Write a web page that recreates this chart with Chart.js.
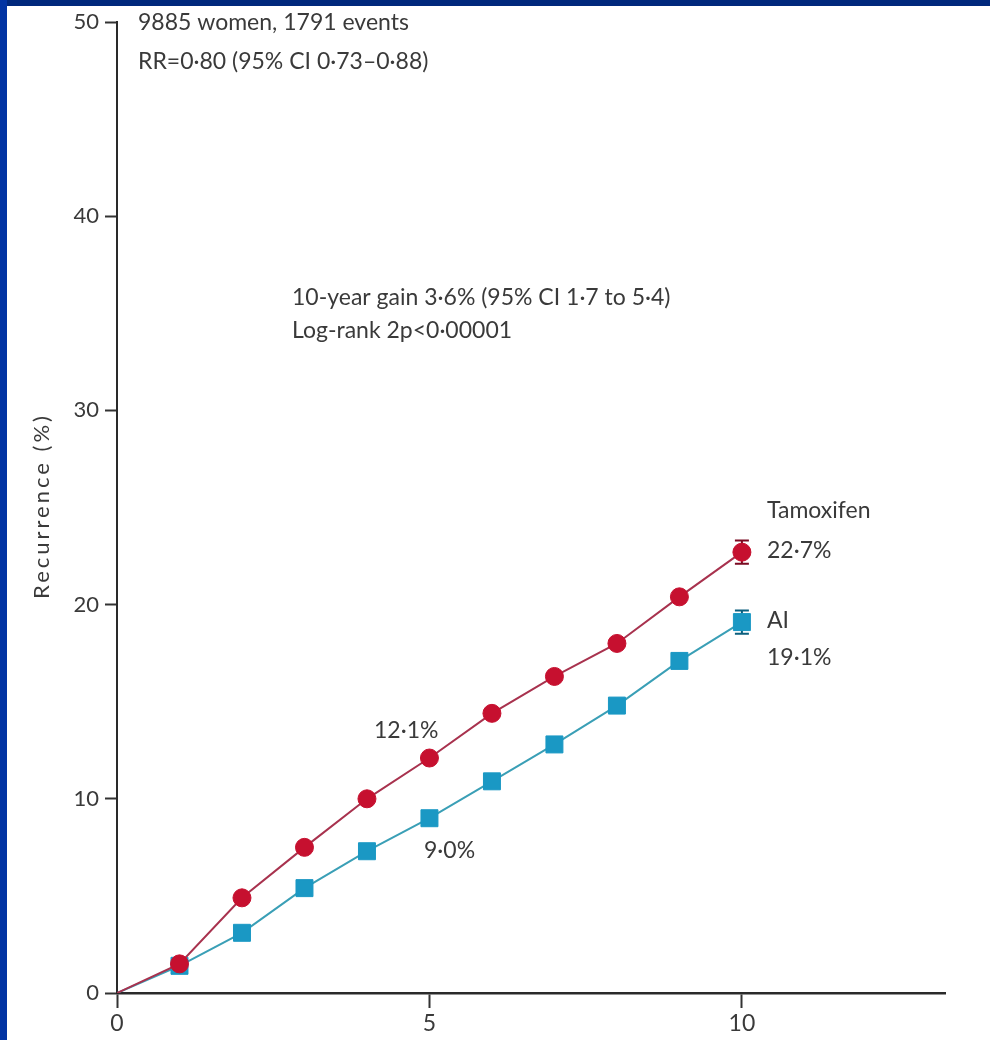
<!DOCTYPE html>
<html>
<head>
<meta charset="utf-8">
<script src="https://cdn.jsdelivr.net/npm/chart.js@4.4.1/dist/chart.umd.min.js"></script>
<style>
html, body { margin:0; padding:0; background:#fff; }
#wrap { position:relative; width:990px; height:1040px; overflow:hidden; background:#fff; }
#topbar { position:absolute; left:0; top:0; width:990px; height:6px; background:#00287c; }
#leftbar { position:absolute; left:0; top:0; width:7px; height:1040px; background:#0134a3; }
canvas { position:absolute; left:0; top:0; }
</style>
</head>
<body>
<div id="wrap">
<canvas id="myChart" width="990" height="1040"></canvas>
<div id="topbar"></div>
<div id="leftbar"></div>
</div>
<script>
// years since start (0 = origin, no marker)
var years = [0, 1, 2, 3, 4, 5, 6, 7, 8, 9, 10];
var tamoxifen = [0, 1.5, 4.9, 7.5, 10.0, 12.1, 14.4, 16.3, 18.0, 20.4, 22.7];
var aromatase = [0, 1.4, 3.1, 5.4, 7.3, 9.0, 10.9, 12.8, 14.8, 17.1, 19.1];
// +/- error at 10 years
var tamErr = 0.6;
var aiErr = 0.6;
var xTicks = [0, 5, 10];
var yTicks = [0, 10, 20, 30, 40, 50];

var fontFam = "Lato, 'Open Sans', sans-serif";
var txtColor = '#3a3a3a';

function pts(arr) {
  var out = [];
  for (var i = 0; i < years.length; i++) out.push({x: years[i], y: arr[i]});
  return out;
}

// text labels drawn on the chart
var notes = [
  {t: '9885 women, 1791 events', px: 138, py: 23},
  {t: 'RR=0·80 (95% CI 0·73–0·88)', px: 138, py: 62},
  {t: '10-year gain 3·6% (95% CI 1·7 to 5·4)', px: 292, py: 298},
  {t: 'Log-rank 2p<0·00001', px: 292, py: 331},
  {t: 'Tamoxifen', px: 767, py: 511},
  {t: '22·7%', px: 767, py: 551},
  {t: 'AI', px: 767, py: 621},
  {t: '19·1%', px: 767, py: 658},
  {t: '12·1%', px: 374, py: 731},
  {t: '9·0%', px: 424, py: 851}
];

var extras = {
  id: 'extras',
  beforeDatasetsDraw: function(chart) {
    var c = chart.ctx, xs = chart.scales.x, ys = chart.scales.y;
    var bars = [[tamoxifen, tamErr, '#7a0a22'], [aromatase, aiErr, '#0b5f7e']];
    var last = years.length - 1;
    bars.forEach(function(b) {
      var x = xs.getPixelForValue(years[last]);
      var y1 = ys.getPixelForValue(b[0][last] + b[1]);
      var y2 = ys.getPixelForValue(b[0][last] - b[1]);
      c.save();
      c.strokeStyle = b[2];
      c.lineWidth = 2;
      c.beginPath();
      c.moveTo(x, y1); c.lineTo(x, y2);
      c.moveTo(x - 7, y1); c.lineTo(x + 7, y1);
      c.moveTo(x - 7, y2); c.lineTo(x + 7, y2);
      c.stroke();
      c.restore();
    });
  },
  afterDraw: function(chart) {
    var c = chart.ctx;
    c.save();
    c.fillStyle = txtColor;
    c.font = '23px ' + fontFam;
    c.textBaseline = 'middle';
    c.textAlign = 'left';
    notes.forEach(function(n) { c.fillText(n.t, n.px, n.py); });
    // y axis title
    c.translate(42, 506);
    c.rotate(-Math.PI / 2);
    c.textAlign = 'center';
    c.font = '22px ' + fontFam;
    c.letterSpacing = '3px';
    c.fillText('Recurrence (%)', 0, 0);
    c.restore();
  }
};

window.onload = function () {
  var ctx = document.getElementById('myChart');
  new Chart(ctx, {
    type: 'scatter',
    data: {
      datasets: [{
        label: 'Tamoxifen',
        data: pts(tamoxifen),
        showLine: true,
        borderColor: '#a8324e',
        borderWidth: 2,
        backgroundColor: '#c6102f',
        pointBorderColor: '#c6102f',
        pointStyle: 'circle',
        pointRadius: function(c) { return c.dataIndex === 0 ? 0 : 9; },
        pointBorderWidth: 1
      }, {
        label: 'AI',
        data: pts(aromatase),
        showLine: true,
        borderColor: '#3a9fb6',
        borderWidth: 2,
        backgroundColor: '#1a98c4',
        pointBorderColor: '#1a98c4',
        pointStyle: 'rect',
        pointRadius: function(c) { return c.dataIndex === 0 ? 0 : 12; },
        pointBorderWidth: 1
      }]
    },
    options: {
      responsive: false,
      animation: false,
      layout: { padding: { left: 0, top: 22, right: 45, bottom: 0 } },
      plugins: { legend: { display: false }, tooltip: { enabled: false } },
      scales: {
        x: {
          type: 'linear', min: 0, max: 13.25,
          afterBuildTicks: function(s) { s.ticks = xTicks.map(function(v) { return {value: v}; }); },
          afterFit: function(s) { s.height = 47; },
          grid: { drawOnChartArea: false, drawTicks: true, tickLength: 15, tickColor: '#333', tickWidth: 2 },
          border: { display: true, color: '#2a2a2a', width: 2.5 },
          ticks: { color: txtColor, padding: 2, font: { family: fontFam, size: 23 }, maxRotation: 0 }
        },
        y: {
          type: 'linear', min: 0, max: 50,
          afterBuildTicks: function(s) { s.ticks = yTicks.map(function(v) { return {value: v}; }); },
          afterFit: function(s) { s.width = 117; },
          grid: { drawOnChartArea: false, drawTicks: true, tickLength: 12, tickColor: '#333', tickWidth: 2 },
          border: { display: true, color: '#2a2a2a', width: 2 },
          ticks: { color: txtColor, padding: 6, font: { family: fontFam, size: 22 } }
        }
      }
    },
    plugins: [extras]
  });
};
</script>
</body>
</html>
